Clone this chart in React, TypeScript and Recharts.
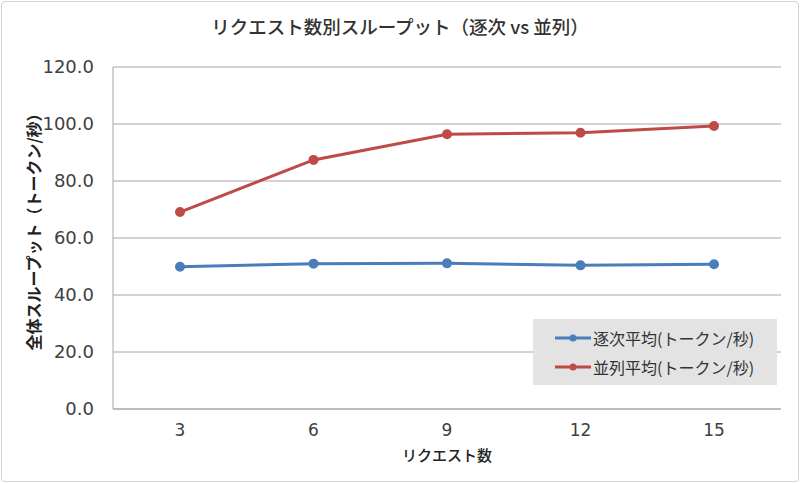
import React from "react";
import {
  LineChart,
  Line,
  XAxis,
  YAxis,
  CartesianGrid,
  Label,
} from "recharts";

const requestCounts = ["3", "6", "9", "12", "15"];
const sequentialAvg = [49.9, 51.0, 51.1, 50.4, 50.8];
const parallelAvg = [69.1, 87.4, 96.4, 96.9, 99.3];
const yTicks = [0, 20, 40, 60, 80, 100, 120];

const seqName = "逐次平均(トークン/秒)";
const parName = "並列平均(トークン/秒)";
const BLUE = "#4a7ebb";
const RED = "#be4b48";
const JP_FONT = "'Noto Sans CJK JP', 'Noto Sans', sans-serif";

const data = requestCounts.map((c, i) => ({
  count: c,
  seq: sequentialAvg[i],
  par: parallelAvg[i],
}));

// legend drawn as plain html so it can sit over the plot like the excel one
function LegendBox() {
  const items = [
    { name: seqName, color: BLUE },
    { name: parName, color: RED },
  ];
  return (
    <div
      style={{
        position: "absolute",
        left: 533,
        top: 319,
        background: "#e3e3e3",
        width: 244,
        height: 66,
        boxSizing: "border-box",
        padding: "4px 0 0 22px",
        fontFamily: JP_FONT,
        fontSize: 16,
        color: "#333",
      }}
    >
      {items.map((it) => (
        <div
          key={it.name}
          style={{ display: "flex", alignItems: "center", height: 29 }}
        >
          <svg width={36} height={10} style={{ marginRight: 2 }}>
            <line x1={0} y1={5} x2={36} y2={5} stroke={it.color} strokeWidth={3} />
            <circle cx={18} cy={5} r={3.5} fill={it.color} />
          </svg>
          <span>{it.name}</span>
        </div>
      ))}
    </div>
  );
}

export default function App() {
  return (
    <div
      style={{
        position: "absolute",
        left: 0,
        top: 0,
        width: 800,
        height: 483,
        background: "#fff",
      }}
    >
      <div
        style={{
          position: "absolute",
          left: 1,
          top: 1,
          width: 796,
          height: 479,
          border: "1px solid #d4d4d4",
          borderRadius: 4,
        }}
      />
      <div
        style={{
          position: "absolute",
          left: 0,
          top: 13,
          width: 800,
          textAlign: "center",
          fontFamily: JP_FONT,
          fontSize: 18.5,
          fontWeight: 500,
          color: "#333",
        }}
      >
        リクエスト数別スループット（逐次 vs 並列）
      </div>
      <LineChart
        width={800}
        height={483}
        data={data}
        margin={{ top: 67, right: 19, bottom: 40, left: 13 }}
      >
        <CartesianGrid stroke="#a6a6a6" vertical={false} />
        <XAxis
          dataKey="count"
          padding={{ left: 67, right: 67 }}
          axisLine={{ stroke: "#a6a6a6" }}
          tickLine={false}
          tick={{ fill: "#404040", fontSize: 17, fontFamily: "'DejaVu Sans'" }}
          tickMargin={9}
          height={34}
        >
          <Label
            value="リクエスト数"
            position="insideBottom"
            offset={-18}
            style={{ fill: "#222", fontSize: 15, fontFamily: JP_FONT, fontWeight: 500 }}
          />
        </XAxis>
        <YAxis
          domain={[0, 120]}
          ticks={yTicks}
          width={100}
          axisLine={{ stroke: "#a6a6a6" }}
          tickLine={false}
          tickFormatter={(v: number) => v.toFixed(1)}
          tick={{ fill: "#404040", fontSize: 18, fontFamily: "'DejaVu Sans'" }}
          tickMargin={13}
        >
          <Label
            value="全体スループット（トークン/秒）"
            angle={-90}
            position="insideLeft"
            offset={21}
            dy={-10}
            style={{
              fill: "#222",
              fontSize: 16,
              fontFamily: JP_FONT,
              fontWeight: 600,
              textAnchor: "middle",
            }}
          />
        </YAxis>
        <Line
          dataKey="seq"
          name={seqName}
          stroke={BLUE}
          strokeWidth={3}
          dot={{ r: 3.5, fill: BLUE, stroke: BLUE }}
          isAnimationActive={false}
        />
        <Line
          dataKey="par"
          name={parName}
          stroke={RED}
          strokeWidth={3}
          dot={{ r: 3.5, fill: RED, stroke: RED }}
          isAnimationActive={false}
        />
      </LineChart>
      <LegendBox />
    </div>
  );
}
